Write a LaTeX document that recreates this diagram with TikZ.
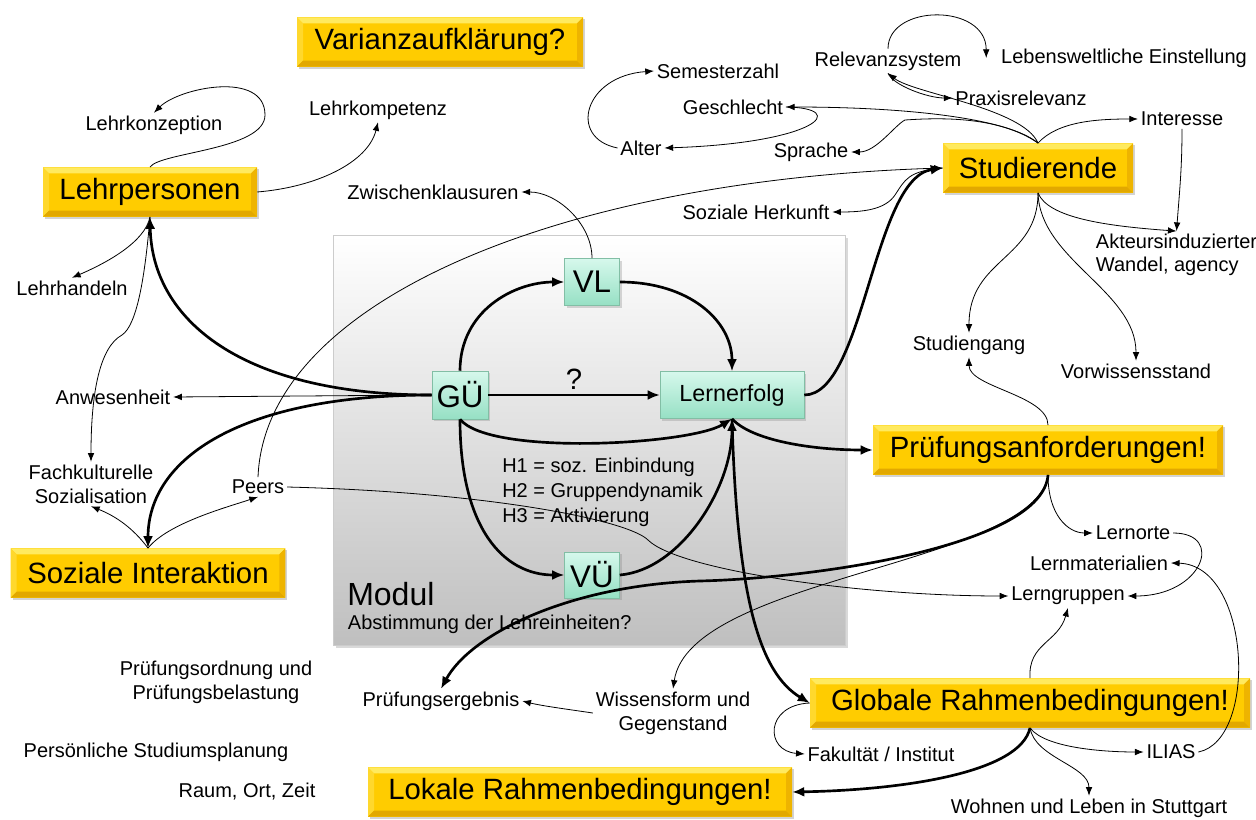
\documentclass[tikz,border=0pt]{standalone}
\usepackage{fontspec}
\setmainfont{Liberation Sans}
\usetikzlibrary{arrows.meta}
\usetikzlibrary{shadows}

\definecolor{boxgold}{RGB}{255,204,0}
\definecolor{goldhi}{RGB}{255,234,95}
\definecolor{goldside}{RGB}{255,216,45}
\definecolor{goldlo}{RGB}{226,168,0}
\definecolor{goldright}{RGB}{238,180,0}
\definecolor{mintlight}{RGB}{214,248,236}
\definecolor{mintdark}{RGB}{150,224,196}
\definecolor{mintedge}{RGB}{130,190,165}

\newcommand{\lblfont}{\fontsize{15}{18}\selectfont}
\newcommand{\bigfont}{\fontsize{22}{26}\selectfont}
\newcommand{\unitfont}{\fontsize{23.5}{28}\selectfont}
\newcommand{\erfolgfont}{\fontsize{17.5}{21}\selectfont}
\newcommand{\modulfont}{\fontsize{24}{28}\selectfont}
\newcommand{\goldbevel}{%
  \path (path picture bounding box.north west) coordinate (bvnw)
    (path picture bounding box.north east) coordinate (bvne)
    (path picture bounding box.south west) coordinate (bvsw)
    (path picture bounding box.south east) coordinate (bvse);
  \fill[goldhi] (bvnw) -- (bvne) -- ([shift={(-4.5pt,-4.5pt)}]bvne) -- ([shift={(4.5pt,-4.5pt)}]bvnw) -- cycle;
  \fill[goldside] (bvnw) -- ([shift={(4.5pt,-4.5pt)}]bvnw) -- ([shift={(4.5pt,4.5pt)}]bvsw) -- (bvsw) -- cycle;
  \fill[goldlo] (bvsw) -- ([shift={(4.5pt,4.5pt)}]bvsw) -- ([shift={(-4.5pt,4.5pt)}]bvse) -- (bvse) -- cycle;
  \fill[goldright] (bvne) -- (bvse) -- ([shift={(-4.5pt,4.5pt)}]bvse) -- ([shift={(-4.5pt,-4.5pt)}]bvne) -- cycle;}

\tikzset{goldbox/.style={fill=boxgold, font=\bigfont, minimum height=37pt, inner sep=0pt,
  drop shadow={opacity=0.35, shadow xshift=1.5pt, shadow yshift=-1.5pt}, path picture={\goldbevel}}}
\tikzset{mintbox/.style={top color=mintlight, bottom color=mintdark, draw=mintedge, line width=0.4pt,
  inner sep=0pt, drop shadow={opacity=0.3, shadow xshift=1.5pt, shadow yshift=-1.5pt}}}
\tikzset{lbl/.style={font=\lblfont, inner sep=2pt, align=center}}
\tikzset{strong/.style={->, line width=2pt, >={Latex[length=9pt,width=7.5pt]}}}
\tikzset{weak/.style={->, line width=0.6pt, >={Latex[length=6.5pt,width=5pt]}}}

\begin{document}
\begin{tikzpicture}[x=0.75pt, y=-0.75pt]
      \useasboundingbox (0,0) rectangle (1256,820);

      \fill[top color=white, middle color=black!5, bottom color=black!25, draw=black!20,
        drop shadow={opacity=0.3, shadow xshift=2pt, shadow yshift=-2pt}] (333,235) rectangle (845,645);
      \node [anchor=west, font=\modulfont, inner sep=0pt] (modul) at (347,594) {Modul};
      \node [lbl, anchor=west] (abstimm) at (345,624) {Abstimmung der Lehreinheiten?};
      \node [anchor=west, align=left, font=\fontsize{15}{18.75}\selectfont, inner sep=0pt] (hypo) at (502,492)
        {H1 = soz. Einbindung\\H2 = Gruppendynamik\\H3 = Aktivierung};

      \node [goldbox, minimum width=214.5pt] (varianz) at (440,42) {Varianzaufklärung?};
      \node [goldbox, minimum width=160.5pt] (lehrpers) at (150,192) {Lehrpersonen};
      \node [goldbox, minimum width=142.5pt] (studier) at (1038,168) {Studierende};
      \node [goldbox, minimum width=262.5pt] (pruef) at (1048,450) {Prüfungsanforderungen!};
      \node [goldbox, minimum width=206pt] (sozial) at (148,573) {Soziale Interaktion};
      \node [goldbox, minimum width=330pt] (globalrb) at (1030,703) {Globale Rahmenbedingungen!};
      \node [goldbox, minimum width=318pt] (lokalrb) at (580,792) {Lokale Rahmenbedingungen!};

      \node [mintbox, minimum width=41.25pt, minimum height=35.25pt, font=\unitfont] (vl) at (592,282) {VL};
      \node [mintbox, minimum width=42pt, minimum height=36pt, font=\unitfont] (gu) at (460,395) {GÜ};
      \node [mintbox, minimum width=108pt, minimum height=35.25pt, font=\erfolgfont] (lernerfolg) at (732,395) {Lernerfolg};
      \node [mintbox, minimum width=41.25pt, minimum height=34.5pt, font=\unitfont] (vu) at (592,575) {VÜ};

      \node [lbl] (lehrkonz) at (154,125) {Lehrkonzeption};
      \node [lbl] (lehrkomp) at (378,110) {Lehrkompetenz};
      \node [lbl] (zwisch) at (433,192) {Zwischenklausuren};
      \node [lbl] (semest) at (718,71) {Semesterzahl};
      \node [lbl] (geschl) at (733,107) {Geschlecht};
      \node [lbl] (alter) at (641,148) {Alter};
      \node [lbl] (sprache) at (811,152) {Sprache};
      \node [lbl] (herkunft) at (756,212) {Soziale Herkunft};
      \node [lbl] (relevanz) at (888,61) {Relevanzsystem};
      \node [lbl] (lebensw) at (1124,58) {Lebensweltliche Einstellung};
      \node [lbl] (praxis) at (1021,98) {Praxisrelevanz};
      \node [lbl] (interesse) at (1182,119) {Interesse};
      \node [lbl, anchor=west, align=left, font=\fontsize{15}{17.5}\selectfont] (akteur) at (1093,255) {Akteursinduzierter\\Wandel, agency};
      \node [lbl] (lehrhand) at (72,288) {Lehrhandeln};
      \node [lbl] (anwes) at (113,397) {Anwesenheit};
      \node [lbl] (fachkult) at (91,484) {Fachkulturelle\\Sozialisation};
      \node [lbl] (peers) at (258,487) {Peers};
      \node [lbl] (studgang) at (969,345) {Studiengang};
      \node [lbl] (vorwiss) at (1136,371) {Vorwissensstand};
      \node [lbl] (lernorte) at (1133,533) {Lernorte};
      \node [lbl] (lernmat) at (1099,563) {Lernmaterialien};
      \node [lbl] (lerngrup) at (1068,596) {Lerngruppen};
      \node [lbl] (pordnung) at (216,682) {Prüfungsordnung und\\Prüfungsbelastung};
      \node [lbl] (planung) at (156,752) {Persönliche Studiumsplanung};
      \node [lbl] (raum) at (247,792) {Raum, Ort, Zeit};
      \node [lbl] (pergebnis) at (441,701) {Prüfungsergebnis};
      \node [lbl] (wissen) at (673,713) {Wissensform und\\Gegenstand};
      \node [lbl] (fakult) at (881,754) {Fakultät / Institut};
      \node [lbl] (ilias) at (1171,752) {ILIAS};
      \node [lbl] (wohnen) at (1089,808) {Wohnen und Leben in Stuttgart};

      \draw [strong] (gu.west) .. controls +(-190,0) and +(2,103) .. (lehrpers.south);
      \draw [strong] (gu.west) .. controls +(-190,0) and +(0,-90) .. (sozial.north);
      \draw [strong] (gu.north) .. controls +(0,-60) and +(-50,0) .. (vl.west);
      \draw [strong] (vl.east) .. controls +(70,0) and +(0,-50) .. (lernerfolg.north);
      \draw [strong] (gu.east) -- node [above, font=\bigfont] (frage) {?} (lernerfolg.west);
      \draw [strong] (gu.south) .. controls +(30,37) and +(-42,26) .. (lernerfolg.south);
      \draw [strong] (gu.south) .. controls +(0,110) and +(-60,0) .. (vu.west);
      \draw [strong] (vu.east) .. controls +(60,-5) and +(0,70) .. (lernerfolg.south);
      \draw [strong] (lernerfolg.east) .. controls +(60,0) and +(-70,10) .. (studier.west);
      \draw [strong] (lernerfolg.south) .. controls +(20,22) and +(-60,0) .. (pruef.west);
      \draw [strong] (lernerfolg.south) .. controls +(5,180) and +(-50,-30) .. (globalrb.west);
      \draw [strong] (pruef.south) .. controls +(-5,70) and +(120,-3) .. (700,581)
        .. controls +(-130,4) and +(30,-55) .. (pergebnis.north);
      \draw [strong] (globalrb.south) .. controls +(-10,45) and +(110,-2) .. (lokalrb.east);

      \draw [weak] (lehrpers.north) .. controls +(10,-15) and +(0,35) .. (265,115)
        .. controls +(0,-45) and +(25,-25) .. (lehrkonz.north);
      \draw [weak] (lehrpers.east) .. controls +(60,-5) and +(-10,40) .. (lehrkomp.south);
      \draw [weak] (lehrpers.south) .. controls +(-5,25) and +(35,-15) .. (lehrhand.north);
      \draw [weak] (lehrpers.south) .. controls +(-5,60) and +(15,-10) .. (122,335)
        .. controls +(-22,12) and +(0,-70) .. (fachkult.north);
      \draw [weak] (gu.west) -- (anwes.east);
      \draw [weak] (sozial.north) .. controls +(-15,-20) and +(25,10) .. (fachkult.south);
      \draw [weak] (sozial.north) .. controls +(20,-25) and +(-30,10) .. (peers.south);
      \draw [weak] (peers.north) .. controls +(7,-176) and +(-383,12) .. (studier.west);
      \draw [weak] (peers.east) .. controls +(200,5) and +(-20,-20) .. (648,540)
        .. controls +(30,30) and +(-150,0) .. (lerngrup.west);
      \draw [weak] (vl.north) .. controls +(0,-35) and +(35,0) .. (zwisch.east);
      \draw [weak] (studier.north) .. controls +(-30,-25) and +(120,0) .. (geschl.east);
      \draw [weak] (studier.north) .. controls +(-15,-35) and +(25,20) .. (relevanz.south);
      \draw [weak] (studier.north) .. controls +(-40,-28) and +(30,-2) .. (905,120)
        .. controls +(-10,5) and +(25,0) .. (sprache.east);
      \draw [weak] (studier.north) .. controls +(20,-22) and +(-40,0) .. (interesse.west);
      \draw [weak] (studier.west) .. controls +(-35,3) and +(10,-15) .. (895,195)
        .. controls +(-10,15) and +(30,0) .. (herkunft.east);
      \draw [weak] (geschl.east) .. controls +(65,1) and +(152,-5) .. (alter.east);
      \draw [weak] (alter.west) .. controls +(-50,-10) and +(-70,5) .. (semest.west);
      \draw [weak] (relevanz.south) .. controls +(5,12) and +(-25,0) .. (praxis.west);
      \draw [weak] (relevanz.north) .. controls +(0,-45) and +(0,-55) .. ([xshift=-9pt]lebensw.west);
      \draw [weak] (interesse.south) .. controls +(0,40) and +(3,-40) .. (akteur.north);
      \draw [weak] (studier.south) .. controls +(10,25) and +(-70,-5) .. (akteur.north);
      \draw [weak] (studier.south) .. controls +(0,67) and +(0,-75) .. (studgang.north);
      \draw [weak] (studier.south) .. controls +(2,67) and +(0,-70) .. (vorwiss.north);
      \draw [weak] (pruef.north) .. controls +(0,-30) and +(0,30) .. (studgang.south);
      \draw [weak] (pruef.south) .. controls +(0,40) and +(-25,0) .. (lernorte.west);
      \draw [weak] (pruef.south) .. controls +(-13,90) and +(17,-112) .. (wissen.north);
      \draw [weak] (wissen.west) .. controls +(-20,-3) and +(20,5) .. (pergebnis.east);
      \draw [weak] (lernorte.east) .. controls +(52,0) and +(75,0) .. (lerngrup.east);
      \draw [weak] (ilias.east) .. controls +(60,-12) and +(80,2) .. (lernmat.east);
      \draw [weak] (globalrb.north) .. controls +(-2,-35) and +(-10,35) .. (lerngrup.south);
      \draw [weak] (globalrb.south) .. controls +(15,20) and +(-40,0) .. (ilias.west);
      \draw [weak] (globalrb.south) .. controls +(5,30) and +(0,-30) .. (wohnen.north);
      \draw [weak] (globalrb.west) .. controls +(-45,2) and +(-40,-3) .. (fakult.west);
    \end{tikzpicture}
\end{document}
